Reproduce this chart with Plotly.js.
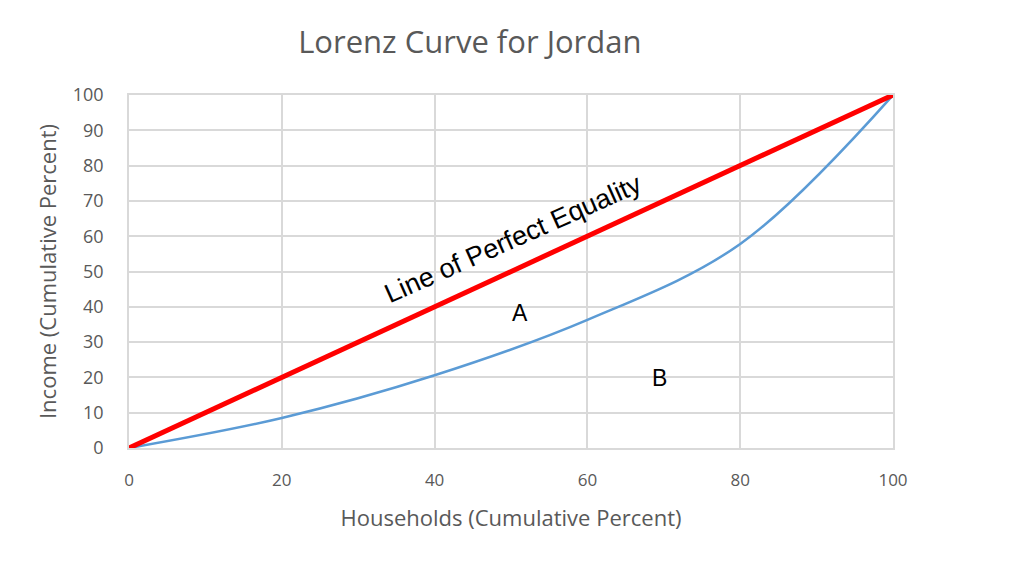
<!DOCTYPE html>
<html>
<head>
<meta charset="utf-8">
<script src="https://cdn.plot.ly/plotly-3.0.1.min.js"></script>
<style>
  body { margin: 0; background: #fff; }
  #chart { width: 1017px; height: 579px; }
</style>
</head>
<body>
<div id="chart"></div>
<script>
// cumulative household share vs cumulative income share (quintiles)
const households = [0, 20, 40, 60, 80, 100];
const income = [0, 8.5, 20.6, 36.3, 57.8, 100];

const equalityX = [0, 100];
const equalityY = [0, 100];

const gray = '#595959';
const gridGray = '#d9d9d9';

const lorenz = {
  x: households,
  y: income,
  mode: 'lines',
  line: { color: '#5b9bd5', width: 2.5, shape: 'spline', smoothing: 1 },
  hoverinfo: 'x+y'
};

const equality = {
  x: equalityX,
  y: equalityY,
  mode: 'lines',
  line: { color: '#ff0000', width: 5 },
  hoverinfo: 'x+y'
};

const layout = {
  width: 1017,
  height: 579,
  showlegend: false,
  paper_bgcolor: '#fff',
  plot_bgcolor: '#fff',
  margin: { l: 129, r: 124, t: 95, b: 131 },
  title: {
    text: 'Lorenz Curve for Jordan',
    font: { family: 'Open Sans, sans-serif', size: 31, color: gray },
    x: 0.462, xanchor: 'center',
    y: 0.928, yanchor: 'middle'
  },
  xaxis: {
    range: [0, 100],
    dtick: 20,
    showgrid: true,
    gridcolor: gridGray,
    gridwidth: 1.5,
    zeroline: false,
    showline: true,
    mirror: true,
    linecolor: gridGray,
    linewidth: 1.5,
    ticks: '',
    ticklabelstandoff: 16,
    tickfont: { family: 'Open Sans, sans-serif', size: 17, color: gray },
    title: {
      text: 'Households (Cumulative Percent)',
      font: { family: 'Open Sans, sans-serif', size: 22, color: gray },
      standoff: 20
    }
  },
  yaxis: {
    range: [0, 100],
    dtick: 10,
    showgrid: true,
    gridcolor: gridGray,
    gridwidth: 1.5,
    zeroline: false,
    showline: true,
    mirror: true,
    linecolor: gridGray,
    linewidth: 1.5,
    ticks: '',
    ticklabelstandoff: 20,
    tickfont: { family: 'Open Sans, sans-serif', size: 18, color: gray },
    title: {
      text: 'Income (Cumulative Percent)',
      font: { family: 'Open Sans, sans-serif', size: 22, color: gray },
      standoff: 10
    }
  },
  annotations: [
    {
      x: 50.2, y: 59.3, xref: 'x', yref: 'y',
      text: 'Line of Perfect Equality',
      showarrow: false, textangle: -24,
      font: { family: 'Liberation Sans, Arial, sans-serif', size: 27, color: '#000' }
    },
    {
      x: 51.2, y: 38.2, xref: 'x', yref: 'y',
      text: 'A', showarrow: false,
      font: { family: 'Liberation Sans, Arial, sans-serif', size: 23, color: '#000' }
    },
    {
      x: 69.4, y: 19.8, xref: 'x', yref: 'y',
      text: 'B', showarrow: false,
      font: { family: 'Liberation Sans, Arial, sans-serif', size: 23, color: '#000' }
    }
  ]
};

Plotly.newPlot('chart', [lorenz, equality], layout, { displayModeBar: false });
</script>
</body>
</html>
